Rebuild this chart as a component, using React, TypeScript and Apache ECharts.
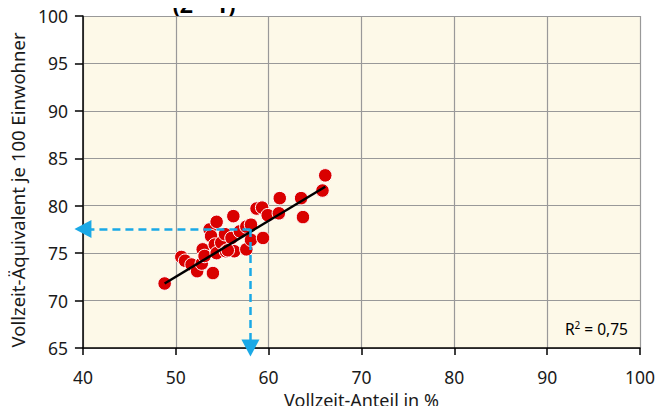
import React, { useEffect, useRef } from "react";
import * as echarts from "echarts";

// Vollzeit-Anteil (%) vs. Vollzeit-Äquivalent je 100 Einwohner, one point per region
const fullTimeShare: number[] = [
  48.8, 50.6, 51.0, 51.7, 52.3, 52.8, 54.0, 52.9, 53.1, 53.65, 54.4, 53.8,
  54.2, 54.4, 54.9, 55.3, 55.4, 56.0, 56.3, 56.2, 56.9, 57.6, 58.1, 57.6,
  58.1, 59.4, 58.7, 59.3, 59.9, 61.1, 61.2, 63.5, 63.7, 65.8, 66.1, 55.6,
];
const ftePer100: number[] = [
  71.8, 74.6, 74.2, 73.8, 73.1, 73.9, 72.9, 75.4, 74.7, 77.5, 78.3, 76.8,
  75.9, 75.0, 76.1, 77.0, 75.2, 76.6, 75.2, 78.9, 77.3, 77.8, 78.0, 75.4,
  76.4, 76.6, 79.7, 79.8, 79.0, 79.2, 80.8, 80.8, 78.8, 81.6, 83.2, 75.3,
];

// Regression line end points
const trendX: number[] = [48.8, 66.1];
const trendY: number[] = [71.8, 82.0];

// Reading example: 58 % -> 77.5
const readX = 58.04;
const readY = 77.54;

const xTicks = { min: 40, max: 100, interval: 10 };
const yTicks = { min: 65, max: 100, interval: 5 };

const FONT = "'Noto Sans', 'Open Sans', sans-serif";
const BLUE = "#1AA9E6";
const TEXT = "#1a1a1a";

export default function App() {
  const ref = useRef<HTMLDivElement>(null);

  useEffect(() => {
    if (!ref.current) return;
    const chart = echarts.init(ref.current, null, { renderer: "svg" });

    const points = fullTimeShare.map((x, i) => [x, ftePer100[i]]);
    const trend = trendX.map((x, i) => [x, trendY[i]]);

    chart.setOption({
      animation: false,
      textStyle: { fontFamily: FONT },
      grid: {
        left: 79,
        top: 16,
        right: 25,
        bottom: 63,
        show: true,
        backgroundColor: "#FDF9E8",
        borderWidth: 0,
      },
      xAxis: {
        type: "value",
        ...xTicks,
        name: "Vollzeit-Anteil in %",
        nameLocation: "middle",
        nameGap: 43,
        nameTextStyle: { fontSize: 18, color: TEXT, fontFamily: FONT },
        axisLine: { lineStyle: { color: "#000", width: 1.5 } },
        axisTick: { show: true, length: 7, lineStyle: { color: "#000", width: 1.5 } },
        axisLabel: { fontSize: 17.5, color: TEXT, margin: 20, fontFamily: FONT },
        splitLine: { lineStyle: { color: "#999", width: 1.2 } },
      },
      yAxis: {
        type: "value",
        ...yTicks,
        name: "Vollzeit-Äquivalent je 100 Einwohner",
        nameLocation: "middle",
        nameGap: 47,
        nameTextStyle: {
          fontSize: 18.5,
          color: TEXT,
          fontFamily: FONT,
          padding: [0, 16, 0, 0],
        },
        axisLine: { show: true, lineStyle: { color: "#000", width: 1.5 } },
        axisTick: { show: true, length: 8, lineStyle: { color: "#000", width: 1.5 } },
        axisLabel: { fontSize: 17.5, color: TEXT, margin: 15, fontFamily: FONT },
        splitLine: { lineStyle: { color: "#999", width: 1.2 } },
      },
      series: [
        {
          type: "scatter",
          data: points,
          symbolSize: 13.5,
          itemStyle: { color: "#D90000", opacity: 1, borderColor: "#fff", borderWidth: 1 },
          z: 2,
        },
        {
          type: "scatter",
          data: [],
          z: 3,
          markLine: {
            silent: true,
            symbol: ["none", "triangle"],
            symbolSize: [18, 17],
            label: { show: false },
            lineStyle: { color: BLUE, width: 2.5, type: [8, 5], opacity: 1 },
            itemStyle: { color: BLUE },
            data: [
              [{ coord: [readX, readY] }, { coord: [xTicks.min, readY] }],
              [{ coord: [readX, readY] }, { coord: [readX, yTicks.min] }],
            ],
          },
        },
        {
          type: "line",
          data: trend,
          symbol: "none",
          lineStyle: { color: "#000", width: 2.5 },
          z: 4,
        },
      ],
      graphic: [
        {
          type: "text",
          x: 204,
          y: 4,
          style: {
            text: "(Z – 1)",
            font: `bold 22px ${FONT}`,
            lineHeight: 22,
            fill: "#000",
            align: "center",
            verticalAlign: "middle",
          },
        },
        {
          type: "text",
          x: 628,
          y: 329,
          style: {
            text: "{b|R}{s|2}{b| = 0,75}",
            align: "right",
            verticalAlign: "middle",
            rich: {
              b: { fontSize: 15.5, fontFamily: FONT, color: TEXT },
              s: {
                fontSize: 10,
                fontFamily: FONT,
                color: TEXT,
                verticalAlign: "top",
                padding: [0, 0, 9, 0],
              },
            },
          },
        },
        {
          type: "line",
          shape: { x1: 661.5, y1: 0, x2: 661.5, y2: 414 },
          style: { stroke: "#a0a0a0", lineWidth: 1.5 },
        },
      ],
    });

    return () => chart.dispose();
  }, []);

  return <div ref={ref} style={{ width: 665, height: 414, margin: -8 }} />;
}
